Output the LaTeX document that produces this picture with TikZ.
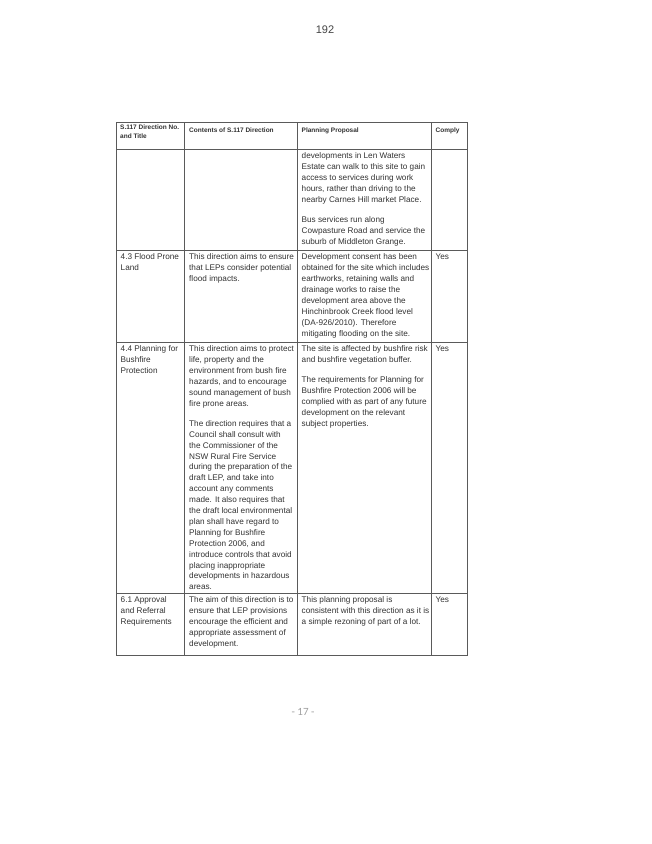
\documentclass[tikz,border=0pt]{standalone}
\usepackage{fontspec}
\setmainfont{Liberation Sans}
\newfontfamily\footfont{Carlito}
\definecolor{gridc}{HTML}{5A5A5A}
\definecolor{txt}{HTML}{333333}
\definecolor{pagenum}{HTML}{444444}
\definecolor{footc}{HTML}{A0A0A0}
\begin{document}
\begin{tikzpicture}[x=1pt,y=-1pt,
  gridline/.style={draw=gridc,line width=1pt},
  cell/.style={anchor=north west,inner sep=0pt,align=left,text=txt,font=\fontsize{8.2}{10.9}\selectfont},
  headcell/.style={anchor=north west,inner sep=0pt,align=left,text=txt,font=\bfseries\fontsize{6.5}{9}\selectfont}]
\useasboundingbox[fill=white] (0,0) rectangle (652,844);
% page number
\node[text=pagenum,font=\fontsize{11}{13}\selectfont,inner sep=0pt] (pnum) at (325,30) {192};
% table grid
\draw[gridline] (116,122) rectangle (467,655);
\foreach \xx in {184,297,431} \draw[gridline] (\xx,122) -- (\xx,655);
\foreach \yy in {149,250,342,593} \draw[gridline] (116,\yy) -- (467,\yy);
% header
\node[headcell] (h1) at (120,123.2) {\strut S.117 Direction No.\\and Title};
\node[headcell] (h2) at (189,125.8) {\strut Contents of S.117 Direction};
\node[headcell] (h3) at (301.5,125.8) {\strut Planning Proposal};
\node[headcell] (h4) at (435.5,125.8) {\strut Comply};
% row 1 (continued)
\node[cell] (r1c3) at (301.5,151.1) {\strut developments in Len Waters\\Estate can walk to this site to gain\\access to services during work\\hours, rather than driving to the\\nearby Carnes Hill market Place.\\[9pt]Bus services run along\\Cowpasture Road and service the\\suburb of Middleton Grange.};
% row 4.3
\node[cell] (r2c1) at (120.5,252.1) {\strut 4.3 Flood Prone\\Land};
\node[cell] (r2c2) at (189,252.1) {\strut This direction aims to ensure\\that LEPs consider potential\\flood impacts.};
\node[cell] (r2c3) at (301.5,252.1) {\strut Development consent has been\\obtained for the site which includes\\earthworks, retaining walls and\\drainage works to raise the\\development area above the\\Hinchinbrook Creek flood level\\(DA-926/2010). Therefore\\mitigating flooding on the site.};
\node[cell] (r2c4) at (435.5,252.1) {\strut Yes};
% row 4.4
\node[cell] (r3c1) at (120.5,344.1) {\strut 4.4 Planning for\\Bushfire\\Protection};
\node[cell] (r3c2) at (189,344.1) {\strut This direction aims to protect\\life, property and the\\environment from bush fire\\hazards, and to encourage\\sound management of bush\\fire prone areas.\\[9pt]The direction requires that a\\Council shall consult with\\the Commissioner of the\\NSW Rural Fire Service\\during the preparation of the\\draft LEP, and take into\\account any comments\\made. It also requires that\\the draft local environmental\\plan shall have regard to\\Planning for Bushfire\\Protection 2006, and\\introduce controls that avoid\\placing inappropriate\\developments in hazardous\\areas.};
\node[cell] (r3c3) at (301.5,344.1) {\strut The site is affected by bushfire risk\\and bushfire vegetation buffer.\\[9pt]The requirements for Planning for\\Bushfire Protection 2006 will be\\complied with as part of any future\\development on the relevant\\subject properties.};
\node[cell] (r3c4) at (435.5,344.1) {\strut Yes};
% row 6.1
\node[cell] (r4c1) at (120.5,595.1) {\strut 6.1 Approval\\and Referral\\Requirements};
\node[cell] (r4c2) at (189,595.1) {\strut The aim of this direction is to\\ensure that LEP provisions\\encourage the efficient and\\appropriate assessment of\\development.};
\node[cell] (r4c3) at (301.5,595.1) {\strut This planning proposal is\\consistent with this direction as it is\\a simple rezoning of part of a lot.};
\node[cell] (r4c4) at (435.5,595.1) {\strut Yes};
% footer
\node[text=footc,font=\footfont\fontsize{11}{13}\selectfont,inner sep=0pt] (foot) at (303,712) {- 17 -};
\end{tikzpicture}
\end{document}
